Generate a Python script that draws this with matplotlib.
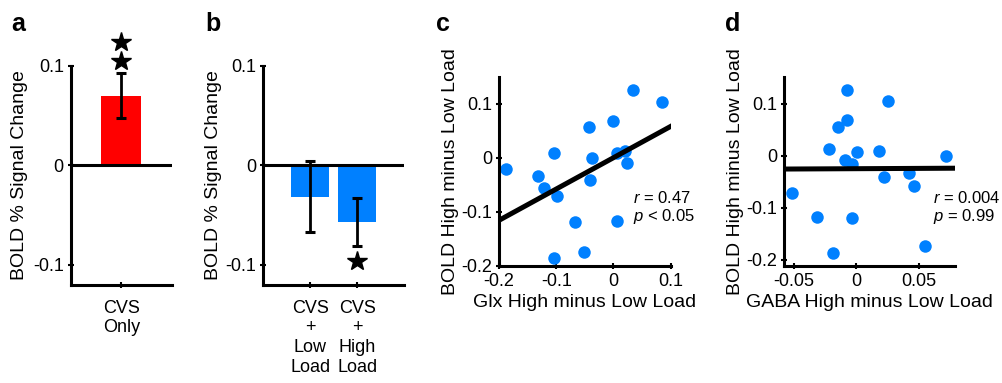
import matplotlib
matplotlib.use("Agg")
import matplotlib.pyplot as plt
import numpy as np

plt.rcParams['font.family'] = ['Liberation Sans', 'DejaVu Sans']
plt.rcParams['axes.unicode_minus'] = False
plt.rcParams['mathtext.fontset'] = 'custom'
plt.rcParams['mathtext.it'] = 'Liberation Sans:italic'
plt.rcParams['mathtext.rm'] = 'Liberation Sans'

# ---------------- data ----------------
a_labels = ["CVS\nOnly"]
a_values = [0.070]
a_err = [0.023]
a_stars_y = [0.124, 0.105]

b_labels = ["CVS\n+\nLow\nLoad", "CVS\n+\nHigh\nLoad"]
b_values = [-0.0316, -0.057]
b_err = [0.036, 0.024]
b_star_y = [-0.096]

bold_ylabel = "BOLD % Signal Change"

c_glx = [-0.188, -0.131, -0.122, -0.1035, -0.099, -0.0667, -0.1047, -0.052, -0.0427,
         -0.0374, -0.041, -0.001, 0.0065, 0.020, 0.024, 0.0065, 0.0346, 0.0847]
c_bold = [-0.020, -0.0335, -0.057, 0.0093, -0.0708, -0.1197, -0.1855, -0.174, 0.056,
          -0.001, -0.042, 0.068, 0.008, 0.013, -0.009, -0.117, 0.125, 0.104]
c_fit_x = [-0.2, 0.1]
c_fit_y = [-0.116, 0.058]

d_gaba = [-0.0519, -0.0318, -0.019, -0.0217, -0.015, -0.0072, -0.0072, -0.0091, -0.0037,
          0.0003, -0.0037, 0.0185, 0.0257, 0.0225, 0.0418, 0.0458, 0.0552, 0.0721]
d_bold = [-0.071, -0.1185, -0.1865, 0.0129, 0.0558, 0.1258, 0.0687, -0.0083, -0.0165,
          0.0065, -0.1198, 0.0096, 0.1046, -0.041, -0.0338, -0.0577, -0.1737, 0.0]
d_fit_x = [-0.058, 0.079]
d_fit_y = [-0.0256, -0.024]

RED = '#FF0000'
BLUE = '#0080FF'
TFS = 13     # tick labels
LFS = 14     # axis labels
AFS = 12     # annotations
LW = 2.2

fig = plt.figure(figsize=(10.03, 3.83), dpi=100)

def style(ax):
    for s in ['top', 'right']:
        ax.spines[s].set_visible(False)
    for s in ['left', 'bottom']:
        ax.spines[s].set_linewidth(LW)
    ax.tick_params(direction='inout', length=4, width=1.5, labelsize=TFS, pad=3)

H = 383.0
W = 1003.0
def pos(l, r, t, b):
    return [l / W, 1 - b / H, (r - l) / W, (b - t) / H]

# ---------------- panel a ----------------
axa = fig.add_axes(pos(70.7, 171.7, 65.7, 284.5))
style(axa)
xa = np.arange(1, len(a_values) + 1)
axa.bar(xa, a_values, width=0.8, color=RED, zorder=2)
axa.axhline(0, color='black', lw=LW, zorder=3)
axa.errorbar(xa, a_values, yerr=a_err, fmt='none', ecolor='black', elinewidth=2,
             capsize=3.3, capthick=2.2, zorder=4)
axa.plot([1] * len(a_stars_y), a_stars_y, linestyle='none', marker='*', ms=15,
         color='black', clip_on=False, zorder=5)
axa.set_xlim(0, 2)
axa.set_ylim(-0.12, 0.1)
axa.set_yticks([-0.1, 0, 0.1])
axa.set_yticklabels(['-0.1', '0', '0.1'])
axa.set_xticks(xa)
axa.set_xticklabels(a_labels, linespacing=1.2)
axa.tick_params(axis='x', pad=9)
axa.set_ylabel(bold_ylabel, fontsize=LFS)
axa.yaxis.set_label_coords(-0.42, 0.5)

# ---------------- panel b ----------------
axb = fig.add_axes(pos(263.3, 404, 65.7, 284.5))
style(axb)
xb = np.arange(1, len(b_values) + 1)
axb.bar(xb, b_values, width=0.8, color=BLUE, zorder=2)
axb.axhline(0, color='black', lw=LW, zorder=3)
axb.errorbar(xb, b_values, yerr=b_err, fmt='none', ecolor='black', elinewidth=2,
             capsize=3.3, capthick=2.2, zorder=4)
axb.plot([2], b_star_y, linestyle='none', marker='*', ms=15, color='black',
         clip_on=False, zorder=5)
axb.set_xlim(0, 3)
axb.set_ylim(-0.12, 0.1)
axb.set_yticks([-0.1, 0, 0.1])
axb.set_yticklabels(['-0.1', '0', '0.1'])
axb.set_xticks(xb)
axb.set_xticklabels(b_labels, linespacing=1.2)
axb.tick_params(axis='x', pad=9)
axb.set_ylabel(bold_ylabel, fontsize=LFS)
axb.yaxis.set_label_coords(-0.29, 0.5)

# ---------------- panel c ----------------
axc = fig.add_axes(pos(499, 670.7, 76.7, 265.7))
style(axc)
axc.plot(c_glx, c_bold, linestyle='none', marker='o', ms=9, color=BLUE,
         markeredgewidth=0, zorder=2)
axc.plot(c_fit_x, c_fit_y, color='black', lw=3.6, zorder=3)
axc.set_xlim(-0.2, 0.1)
axc.set_ylim(-0.2, 0.15)
axc.set_xticks([-0.2, -0.1, 0, 0.1])
axc.set_xticklabels(['-0.2', '-0.1', '0', '0.1'])
axc.set_yticks([-0.2, -0.1, 0, 0.1])
axc.set_yticklabels(['-0.2', '-0.1', '0', '0.1'])
axc.set_xlabel("Glx High minus Low Load", fontsize=LFS, labelpad=3)
axc.set_ylabel("BOLD High minus Low Load", fontsize=LFS)
axc.yaxis.set_label_coords(-0.235, 0.5)
axc.text(0.78, 0.358, "$r$ = 0.47", transform=axc.transAxes, fontsize=AFS,
         ha='left', va='center')
axc.text(0.78, 0.259, "$p$ < 0.05", transform=axc.transAxes, fontsize=AFS,
         ha='left', va='center')

# ---------------- panel d ----------------
axd = fig.add_axes(pos(784, 955, 76.7, 265.7))
style(axd)
axd.plot(d_gaba, d_bold, linestyle='none', marker='o', ms=9, color=BLUE,
         markeredgewidth=0, zorder=2)
axd.plot(d_fit_x, d_fit_y, color='black', lw=3.6, zorder=3)
axd.set_xlim(-0.058, 0.079)
axd.set_ylim(-0.2115, 0.152)
axd.set_xticks([-0.05, 0, 0.05])
axd.set_xticklabels(['-0.05', '0', '0.05'])
axd.set_yticks([-0.2, -0.1, 0, 0.1])
axd.set_yticklabels(['-0.2', '-0.1', '0', '0.1'])
axd.set_xlabel("GABA High minus Low Load", fontsize=LFS, labelpad=3)
axd.set_ylabel("BOLD High minus Low Load", fontsize=LFS)
axd.yaxis.set_label_coords(-0.235, 0.5)
axd.text(0.872, 0.358, "$r$ = 0.004", transform=axd.transAxes, fontsize=AFS,
         ha='left', va='center')
axd.text(0.872, 0.259, "$p$ = 0.99", transform=axd.transAxes, fontsize=AFS,
         ha='left', va='center')

# ---------------- panel letters ----------------
for letter, x in [('a', 11), ('b', 205), ('c', 436), ('d', 725)]:
    fig.text(x / W, 1 - 24 / H, letter, fontsize=18, fontweight='bold',
             ha='left', va='center')

fig.savefig('out.png', dpi=100)
